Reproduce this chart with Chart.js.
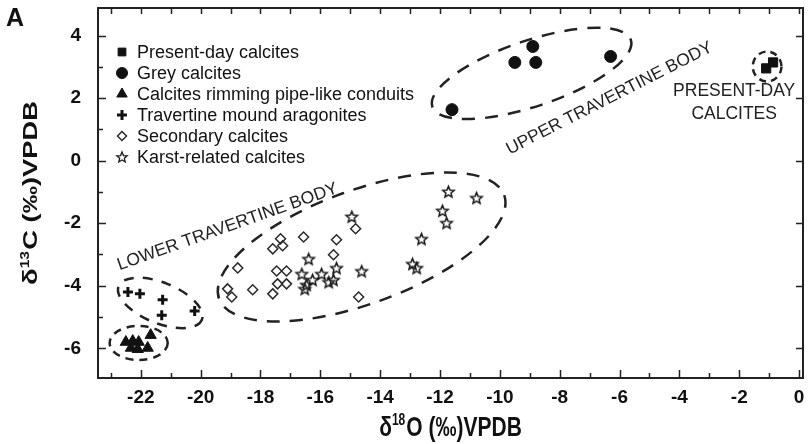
<!doctype html>
<html>

<head>
	<title>Isotope cross-plot</title>
	<script src="https://cdn.jsdelivr.net/npm/chart.js@4/dist/chart.umd.min.js"></script>
	<style>
		html, body {
			margin: 0;
			padding: 0;
			background: #fff;
		}
		.chart-container {
			width: 811px;
			height: 444px;
		}
	</style>
</head>

<body>
	<div class="chart-container"><canvas id="chart"></canvas></div>
	<script>
		// data: d18O (x) and d13C (y), per VPDB
		var seriesNames = ['Present-day calcites', 'Grey calcites', 'Calcites rimming pipe-like conduits',
			'Travertine mound aragonites', 'Secondary calcites', 'Karst-related calcites'];

		var presentO = [-1.1, -0.87];
		var presentC = [2.95, 3.14];

		var greyO = [-11.6, -9.5, -8.9, -8.8, -6.3];
		var greyC = [1.63, 3.14, 3.65, 3.14, 3.33];

		var rimO = [-22.5, -22.27, -22.07, -22.33, -22.1, -21.77, -21.67];
		var rimC = [-5.8, -5.77, -5.8, -5.99, -6.03, -5.99, -5.58];

		var aragO = [-22.43, -22.03, -21.27, -21.3, -20.2];
		var aragC = [-4.2, -4.26, -4.45, -4.94, -4.81];

		var secO = [-18.76, -19.1, -18.96, -18.26, -17.59, -17.33, -17.26, -17.46, -17.13,
			-17.43, -17.13, -17.59, -16.56, -15.46, -15.56, -14.82, -14.72];
		var secC = [-3.43, -4.1, -4.36, -4.13, -2.82, -2.5, -2.72, -3.53, -3.53,
			-3.94, -3.94, -4.26, -2.44, -2.53, -3.01, -2.18, -4.36];

		var karstO = [-14.95, -16.39, -15.46, -15.96, -14.62, -16.62, -16.26, -16.46, -16.52,
			-15.72, -15.56, -11.72, -10.78, -11.92, -11.78, -12.62, -12.92, -12.78];
		var karstC = [-1.79, -3.14, -3.43, -3.62, -3.53, -3.62, -3.81, -3.97, -4.1,
			-3.88, -3.81, -0.99, -1.19, -1.6, -1.99, -2.5, -3.3, -3.43];

		var xTicks = [-22, -20, -18, -16, -14, -12, -10, -8, -6, -4, -2, 0];
		var yTicks = [-6, -4, -2, 0, 2, 4];

		// dashed group outlines, centre in data units, radii in x-axis units
		var outlines = [
			{ cx: -22.07, cy: -5.83, rx: 0.97, ry: 0.57, rot: 0, dash: [8, 6] },
			{ cx: -21.35, cy: -4.55, rx: 1.5, ry: 0.68, rot: 22, dash: [10, 9] },
			{ cx: -14.62, cy: -2.76, rx: 5.07, ry: 1.9, rot: -20, dash: [13, 10] },
			{ cx: -8.94, cy: 2.79, rx: 3.5, ry: 1.1, rot: -18.6, dash: [13, 10] },
			{ cx: -1.07, cy: 3.01, rx: 0.48, ry: 0.5, rot: 0, dash: [7, 5] }
		];

		var notes = [
			{ text: 'LOWER TRAVERTINE BODY', x: -19.1, y: -2.12, rot: -19.5, align: 'center' },
			{ text: 'UPPER TRAVERTINE BODY', x: -6.34, y: 1.99, rot: -27, align: 'center' },
			{ text: 'PRESENT-DAY', x: -2.17, y: 2.21, rot: 0, align: 'center' },
			{ text: 'CALCITES', x: -2.17, y: 1.5, rot: 0, align: 'center' }
		];

		function pairs(xs, ys) {
			return xs.map(function(x, i) {
				return { x: x, y: ys[i] };
			});
		}

		function makeStar(r, lw) {
			var s = Math.ceil(2 * r + 2 * lw + 2);
			var c = document.createElement('canvas');
			c.width = s;
			c.height = s;
			var g = c.getContext('2d');
			g.translate(s / 2, s / 2 + r * 0.1);
			g.beginPath();
			for (var i = 0; i < 10; i++) {
				var rr = i % 2 ? r * 0.45 : r;
				var a = -Math.PI / 2 + i * Math.PI / 5;
				g.lineTo(rr * Math.cos(a), rr * Math.sin(a));
			}
			g.closePath();
			g.lineWidth = lw;
			g.strokeStyle = '#1a1a1a';
			g.stroke();
			return c;
		}

		var starMark = makeStar(6, 1.5);
		var starLegend = makeStar(5.5, 1.3);

		var ink = '#111';
		var styles = [
			{ pointStyle: 'rect', radius: 6.5, bg: ink, border: ink, bw: 1, lr: 5.5 },
			{ pointStyle: 'circle', radius: 6, bg: ink, border: ink, bw: 1, lr: 5.5 },
			{ pointStyle: 'triangle', radius: 6.5, bg: ink, border: ink, bw: 1, lr: 6 },
			{ pointStyle: 'cross', radius: 5, bg: ink, border: ink, bw: 3, lr: 5 },
			{ pointStyle: 'rectRot', radius: 5, bg: 'rgba(0,0,0,0)', border: '#2a2a2a', bw: 1.5, lr: 4.5 },
			{ pointStyle: starMark, radius: 6, bg: 'rgba(0,0,0,0)', border: '#2a2a2a', bw: 1.3, lr: 5.5, legendStyle: starLegend }
		];

		var seriesData = [
			pairs(presentO, presentC), pairs(greyO, greyC), pairs(rimO, rimC),
			pairs(aragO, aragC), pairs(secO, secC), pairs(karstO, karstC)
		];

		var datasets = seriesNames.map(function(name, i) {
			var s = styles[i];
			return {
				label: name,
				data: seriesData[i],
				pointStyle: s.pointStyle,
				pointRadius: s.radius,
				pointBackgroundColor: s.bg,
				pointBorderColor: s.border,
				pointBorderWidth: s.bw,
				showLine: false
			};
		});

		var labelFont = "'Liberation Sans', Arial, sans-serif";

		var decorations = {
			id: 'decorations',
			beforeDatasetsDraw: function(chart) {
				var ctx = chart.ctx;
				var xs = chart.scales.x, ys = chart.scales.y;
				var unit = xs.getPixelForValue(1) - xs.getPixelForValue(0);
				ctx.save();
				ctx.strokeStyle = '#222';
				ctx.lineWidth = 2.5;
				outlines.forEach(function(e) {
					ctx.setLineDash(e.dash);
					ctx.beginPath();
					ctx.ellipse(xs.getPixelForValue(e.cx), ys.getPixelForValue(e.cy),
						e.rx * unit, e.ry * unit, e.rot * Math.PI / 180, 0, Math.PI * 2);
					ctx.stroke();
				});
				ctx.setLineDash([]);
				ctx.fillStyle = '#222';
				ctx.font = '17.5px ' + labelFont;
				ctx.textBaseline = 'middle';
				notes.forEach(function(n) {
					ctx.save();
					ctx.translate(xs.getPixelForValue(n.x), ys.getPixelForValue(n.y));
					ctx.rotate(n.rot * Math.PI / 180);
					ctx.textAlign = n.align;
					ctx.fillText(n.text, 0, 0);
					ctx.restore();
				});
				ctx.restore();
			},
			afterDraw: function(chart) {
				var ctx = chart.ctx;
				var a = chart.chartArea;
				var xs = chart.scales.x, ys = chart.scales.y;
				ctx.save();

				// frame and inward ticks
				ctx.strokeStyle = '#222';
				ctx.lineWidth = 2;
				ctx.strokeRect(a.left, a.top, a.right - a.left, a.bottom - a.top);
				ctx.lineWidth = 1.5;
				ctx.beginPath();
				for (var v = Math.ceil(xs.min); v <= xs.max; v++) {
					var px = Math.round(xs.getPixelForValue(v)) + 0.5;
					var len = v % 2 === 0 ? 8 : 5;
					ctx.moveTo(px, a.bottom);
					ctx.lineTo(px, a.bottom - len);
					ctx.moveTo(px, a.top);
					ctx.lineTo(px, a.top + 6);
				}
				for (var w = Math.ceil(ys.min); w <= ys.max; w++) {
					var py = Math.round(ys.getPixelForValue(w)) + 0.5;
					var l2 = w % 2 === 0 ? 8 : 5;
					ctx.moveTo(a.left, py);
					ctx.lineTo(a.left + l2, py);
					if (w % 2 === 0) {
						ctx.moveTo(a.right, py);
						ctx.lineTo(a.right - 7, py);
					}
				}
				ctx.stroke();

				// legend inside the plot area
				ctx.font = '18px ' + labelFont;
				ctx.textBaseline = 'middle';
				ctx.textAlign = 'left';
				chart.data.datasets.forEach(function(ds, i) {
					var s = styles[i];
					var mx = a.left + 24, my = a.top + 44 + i * 21;
					ctx.fillStyle = s.bg;
					ctx.strokeStyle = s.border;
					ctx.lineWidth = s.bw;
					Chart.helpers.drawPoint(ctx, {
						pointStyle: s.legendStyle || s.pointStyle,
						radius: s.lr,
						rotation: 0,
						borderWidth: s.bw
					}, mx, my);
					ctx.fillStyle = ink;
					ctx.fillText(ds.label, a.left + 39, my + 1);
				});

				// panel letter
				ctx.font = 'bold 25px ' + labelFont;
				ctx.textBaseline = 'alphabetic';
				ctx.fillText('A', 6, 26);

				// axis titles with superscripts
				drawTitle(ctx, '18', 'O (\u2030)VPDB', (a.left + a.right) / 2, 426, false);
				drawTitle(ctx, '13', 'C (\u2030)VPDB', 29, (a.top + a.bottom) / 2, true);
				ctx.restore();
			}
		};

		function drawTitle(ctx, sup, rest, cx, cy, vertical) {
			var big = 'bold 21px ' + labelFont;
			var small = 'bold 12px ' + labelFont;
			ctx.save();
			ctx.translate(cx, cy);
			if (vertical) {
				ctx.rotate(-Math.PI / 2);
				ctx.scale(1.3, 1);
			} else {
				ctx.scale(1, 1.3);
			}
			ctx.fillStyle = ink;
			ctx.textBaseline = 'alphabetic';
			ctx.textAlign = 'left';
			ctx.font = big;
			var w1 = ctx.measureText('\u03b4').width;
			var w3 = ctx.measureText(rest).width;
			ctx.font = small;
			var w2 = ctx.measureText(sup).width + 1;
			var x0 = -(w1 + w2 + w3) / 2;
			var base = 7.5;
			ctx.font = big;
			ctx.fillText('\u03b4', x0, base);
			ctx.font = small;
			ctx.fillText(sup, x0 + w1, base - 8);
			ctx.font = big;
			ctx.fillText(rest, x0 + w1 + w2, base);
			ctx.restore();
		}

		window.onload = function() {
			var ctx = document.getElementById('chart').getContext('2d');
			new Chart(ctx, {
				type: 'scatter',
				data: { datasets: datasets },
				options: {
					responsive: true,
					maintainAspectRatio: false,
					animation: false,
					events: [],
					layout: {
						padding: { left: 0, top: 5, right: 7, bottom: 0 }
					},
					plugins: {
						legend: { display: false },
						tooltip: { enabled: false }
					},
					scales: {
						x: {
							type: 'linear',
							min: -23.43,
							max: 0.13,
							border: { display: false },
							grid: { display: false, drawTicks: false },
							afterBuildTicks: function(scale) {
								scale.ticks = xTicks.map(function(v) { return { value: v }; });
							},
							afterFit: function(scale) {
								scale.height = 66;
								scale.paddingLeft = 0;
								scale.paddingRight = 0;
							},
							ticks: {
								autoSkip: false,
								maxRotation: 0,
								padding: 8,
								color: ink,
								font: { family: labelFont, size: 19, weight: 'bold' }
							}
						},
						y: {
							type: 'linear',
							min: -6.95,
							max: 4.88,
							border: { display: false },
							grid: { display: false, drawTicks: false },
							afterBuildTicks: function(scale) {
								scale.ticks = yTicks.map(function(v) { return { value: v }; });
							},
							afterFit: function(scale) {
								scale.width = 98;
								scale.paddingTop = 0;
								scale.paddingBottom = 0;
							},
							ticks: {
								padding: 17,
								color: ink,
								font: { family: labelFont, size: 19, weight: 'bold' }
							}
						}
					}
				},
				plugins: [decorations]
			});
		};
	</script>
</body>

</html>
